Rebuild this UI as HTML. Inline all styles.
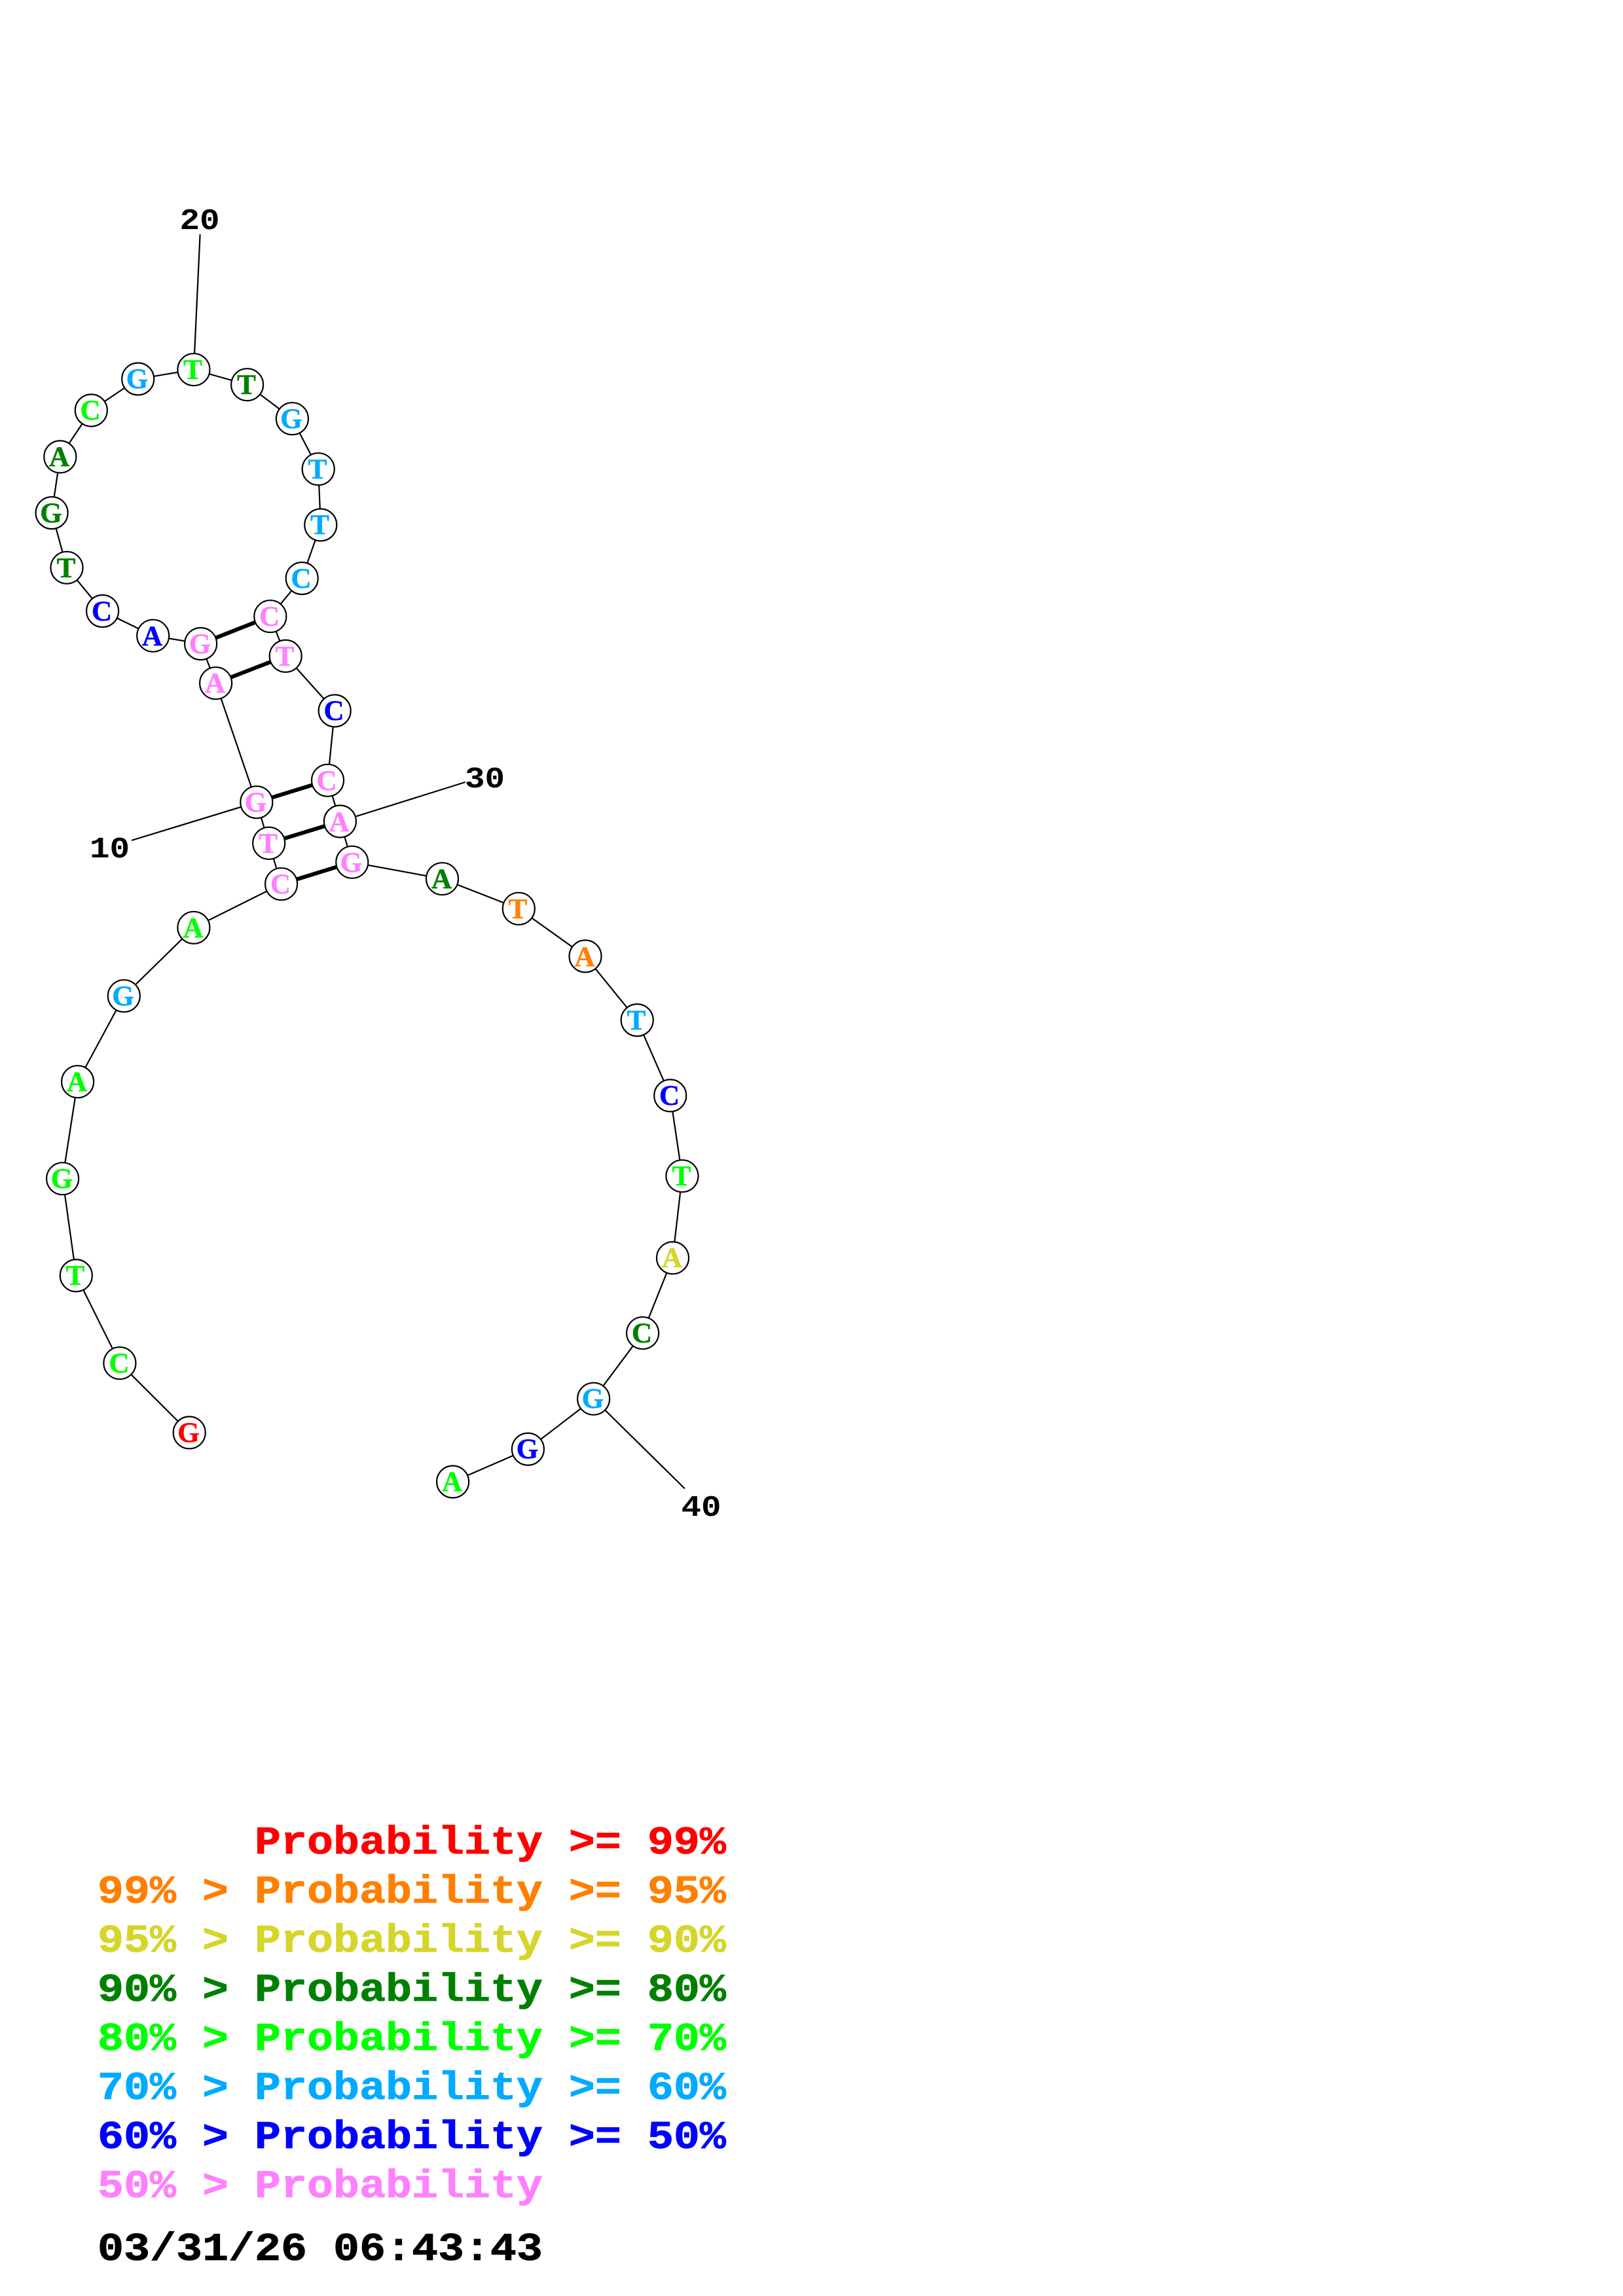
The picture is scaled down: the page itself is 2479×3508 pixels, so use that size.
<!DOCTYPE html>
<html><head><meta charset="utf-8"><style>
html,body{margin:0;padding:0;background:#fff}
svg{display:block}
.n{font-family:"Liberation Serif",serif;font-weight:700;font-size:43px;text-anchor:middle;stroke-width:.6px}
.l{font-family:"Liberation Mono",monospace;font-weight:700;font-size:45px;text-anchor:middle;fill:#000}
.g text{font-family:"Liberation Mono",monospace;font-weight:700;font-size:60px;white-space:pre;stroke-width:.8px}
circle{fill:#fff;stroke:#000;stroke-width:2.2}
.r{fill:#ff0000;stroke:#ff0000}.o{fill:#ff8000;stroke:#ff8000}.y{fill:#d5d52a;stroke:#d5d52a}.d{fill:#008000;stroke:#008000}.v{fill:#00ff00;stroke:#00ff00}.s{fill:#00aaff;stroke:#00aaff}.b{fill:#0000ff;stroke:#0000ff}.p{fill:#ff80ff;stroke:#ff80ff}.k{fill:#000;stroke:#000}
</style></head><body>
<svg xmlns="http://www.w3.org/2000/svg" width="2479" height="3508" viewBox="0 0 2479 3508">
<rect width="2479" height="3508" fill="#fff"/>
<polyline fill="none" stroke="#000" stroke-width="2.2" points="289.2,2188.9 182.9,2082.7 116.3,1948.9 95.6,1800.8 118.6,1652.7 189.3,1521.7 295.9,1417.3 429.6,1350.7 410.7,1288.3 391.8,1225.7 329.6,1043.8 306.6,983.6 233.7,971.3 156.6,933.6 102,867.3 79.1,783.6 91.8,697.9 139.3,627 210.7,579 295.9,564.7 377.6,587.7 446.4,639.7 486.2,716.7 489.8,802 461.2,883.6 412.8,941.7 436.2,1002.4 511.2,1086 500.5,1192.3 519.4,1255 537.8,1317.3 675.5,1342.7 792.3,1388.3 894,1461 973.2,1558.6 1023.7,1673.9 1042,1796.8 1027.5,1921.9 981.6,2036.7 906.6,2137.2 806.4,2214.1 691.6,2264"/>
<g stroke="#000" stroke-width="2.2">
<line x1="295.9" y1="564.7" x2="305.6" y2="358"/>
<line x1="391.8" y1="1225.7" x2="201" y2="1284"/>
<line x1="519.4" y1="1255" x2="710.7" y2="1195"/>
<line x1="906.6" y1="2137.2" x2="1045.9" y2="2274.4"/>
</g>
<g stroke="#000" stroke-width="6">
<line x1="306.6" y1="983.6" x2="412.8" y2="941.7"/>
<line x1="329.6" y1="1043.8" x2="436.2" y2="1002.4"/>
<line x1="391.8" y1="1225.7" x2="500.5" y2="1192.3"/>
<line x1="410.7" y1="1288.3" x2="519.4" y2="1255"/>
<line x1="429.6" y1="1350.7" x2="537.8" y2="1317.3"/>
</g>
<g>
<circle cx="289.2" cy="2188.9" r="24.5"/><text class="n r" x="288" y="2203">G</text>
<circle cx="182.9" cy="2082.7" r="24.5"/><text class="n v" x="182" y="2097">C</text>
<circle cx="116.3" cy="1948.9" r="24.5"/><text class="n v" x="115" y="1963">T</text>
<circle cx="95.6" cy="1800.8" r="24.5"/><text class="n v" x="94.5" y="1815">G</text>
<circle cx="118.6" cy="1652.7" r="24.5"/><text class="n v" x="117.5" y="1667">A</text>
<circle cx="189.3" cy="1521.7" r="24.5"/><text class="n s" x="188" y="1536">G</text>
<circle cx="295.9" cy="1417.3" r="24.5"/><text class="n v" x="295" y="1432">A</text>
<circle cx="429.6" cy="1350.7" r="24.5"/><text class="n p" x="428.5" y="1365">C</text>
<circle cx="410.7" cy="1288.3" r="24.5"/><text class="n p" x="409.5" y="1303">T</text>
<circle cx="391.8" cy="1225.7" r="24.5"/><text class="n p" x="390.5" y="1240">G</text>
<circle cx="329.6" cy="1043.8" r="24.5"/><text class="n p" x="328.5" y="1058">A</text>
<circle cx="306.6" cy="983.6" r="24.5"/><text class="n p" x="305.5" y="998">G</text>
<circle cx="233.7" cy="971.3" r="24.5"/><text class="n b" x="232.5" y="986">A</text>
<circle cx="156.6" cy="933.6" r="24.5"/><text class="n b" x="155.5" y="948">C</text>
<circle cx="102" cy="867.3" r="24.5"/><text class="n d" x="101" y="882">T</text>
<circle cx="79.1" cy="783.6" r="24.5"/><text class="n d" x="78" y="798">G</text>
<circle cx="91.8" cy="697.9" r="24.5"/><text class="n d" x="90.5" y="712">A</text>
<circle cx="139.3" cy="627" r="24.5"/><text class="n v" x="138" y="641">C</text>
<circle cx="210.7" cy="579" r="24.5"/><text class="n s" x="209.5" y="593">G</text>
<circle cx="295.9" cy="564.7" r="24.5"/><text class="n v" x="294.5" y="579">T</text>
<circle cx="377.6" cy="587.7" r="24.5"/><text class="n d" x="376.5" y="602">T</text>
<circle cx="446.4" cy="639.7" r="24.5"/><text class="n s" x="445" y="654">G</text>
<circle cx="486.2" cy="716.7" r="24.5"/><text class="n s" x="485" y="731">T</text>
<circle cx="489.8" cy="802" r="24.5"/><text class="n s" x="488.5" y="816">T</text>
<circle cx="461.2" cy="883.6" r="24.5"/><text class="n s" x="460" y="898">C</text>
<circle cx="412.8" cy="941.7" r="24.5"/><text class="n p" x="411.5" y="956">C</text>
<circle cx="436.2" cy="1002.4" r="24.5"/><text class="n p" x="435" y="1017">T</text>
<circle cx="511.2" cy="1086" r="24.5"/><text class="n b" x="510" y="1100">C</text>
<circle cx="500.5" cy="1192.3" r="24.5"/><text class="n p" x="499" y="1207">C</text>
<circle cx="519.4" cy="1255" r="24.5"/><text class="n p" x="518" y="1270">A</text>
<circle cx="537.8" cy="1317.3" r="24.5"/><text class="n p" x="536.5" y="1332">G</text>
<circle cx="675.5" cy="1342.7" r="24.5"/><text class="n d" x="674.5" y="1357">A</text>
<circle cx="792.3" cy="1388.3" r="24.5"/><text class="n o" x="791" y="1403">T</text>
<circle cx="894" cy="1461" r="24.5"/><text class="n o" x="893" y="1476">A</text>
<circle cx="973.2" cy="1558.6" r="24.5"/><text class="n s" x="972" y="1573">T</text>
<circle cx="1023.7" cy="1673.9" r="24.5"/><text class="n b" x="1022.5" y="1688">C</text>
<circle cx="1042" cy="1796.8" r="24.5"/><text class="n v" x="1041" y="1811">T</text>
<circle cx="1027.5" cy="1921.9" r="24.5"/><text class="n y" x="1026.5" y="1936">A</text>
<circle cx="981.6" cy="2036.7" r="24.5"/><text class="n d" x="980.5" y="2051">C</text>
<circle cx="906.6" cy="2137.2" r="24.5"/><text class="n s" x="905.5" y="2151">G</text>
<circle cx="806.4" cy="2214.1" r="24.5"/><text class="n b" x="805.5" y="2228">G</text>
<circle cx="691.6" cy="2264" r="24.5"/><text class="n v" x="690.5" y="2278">A</text>
</g>
<text class="l" transform="translate(305,350) scale(1.13,1)">20</text>
<text class="l" transform="translate(167.5,1310) scale(1.13,1)">10</text>
<text class="l" transform="translate(740.5,1203) scale(1.13,1)">30</text>
<text class="l" transform="translate(1071,2316) scale(1.13,1)">40</text>
<g class="g">
<text class="r" xml:space="preserve" transform="translate(149,2832) scale(1.111,1)">      Probability &gt;= 99%</text>
<text class="o" xml:space="preserve" transform="translate(149,2907) scale(1.111,1)">99% &gt; Probability &gt;= 95%</text>
<text class="y" xml:space="preserve" transform="translate(149,2982) scale(1.111,1)">95% &gt; Probability &gt;= 90%</text>
<text class="d" xml:space="preserve" transform="translate(149,3057) scale(1.111,1)">90% &gt; Probability &gt;= 80%</text>
<text class="v" xml:space="preserve" transform="translate(149,3132) scale(1.111,1)">80% &gt; Probability &gt;= 70%</text>
<text class="s" xml:space="preserve" transform="translate(149,3207) scale(1.111,1)">70% &gt; Probability &gt;= 60%</text>
<text class="b" xml:space="preserve" transform="translate(149,3282) scale(1.111,1)">60% &gt; Probability &gt;= 50%</text>
<text class="p" xml:space="preserve" transform="translate(149,3357) scale(1.111,1)">50% &gt; Probability</text>
<text class="k" xml:space="preserve" transform="translate(149,3453) scale(1.111,1)">03/31/26 06:43:43</text>
</g>
</svg>
</body></html>
